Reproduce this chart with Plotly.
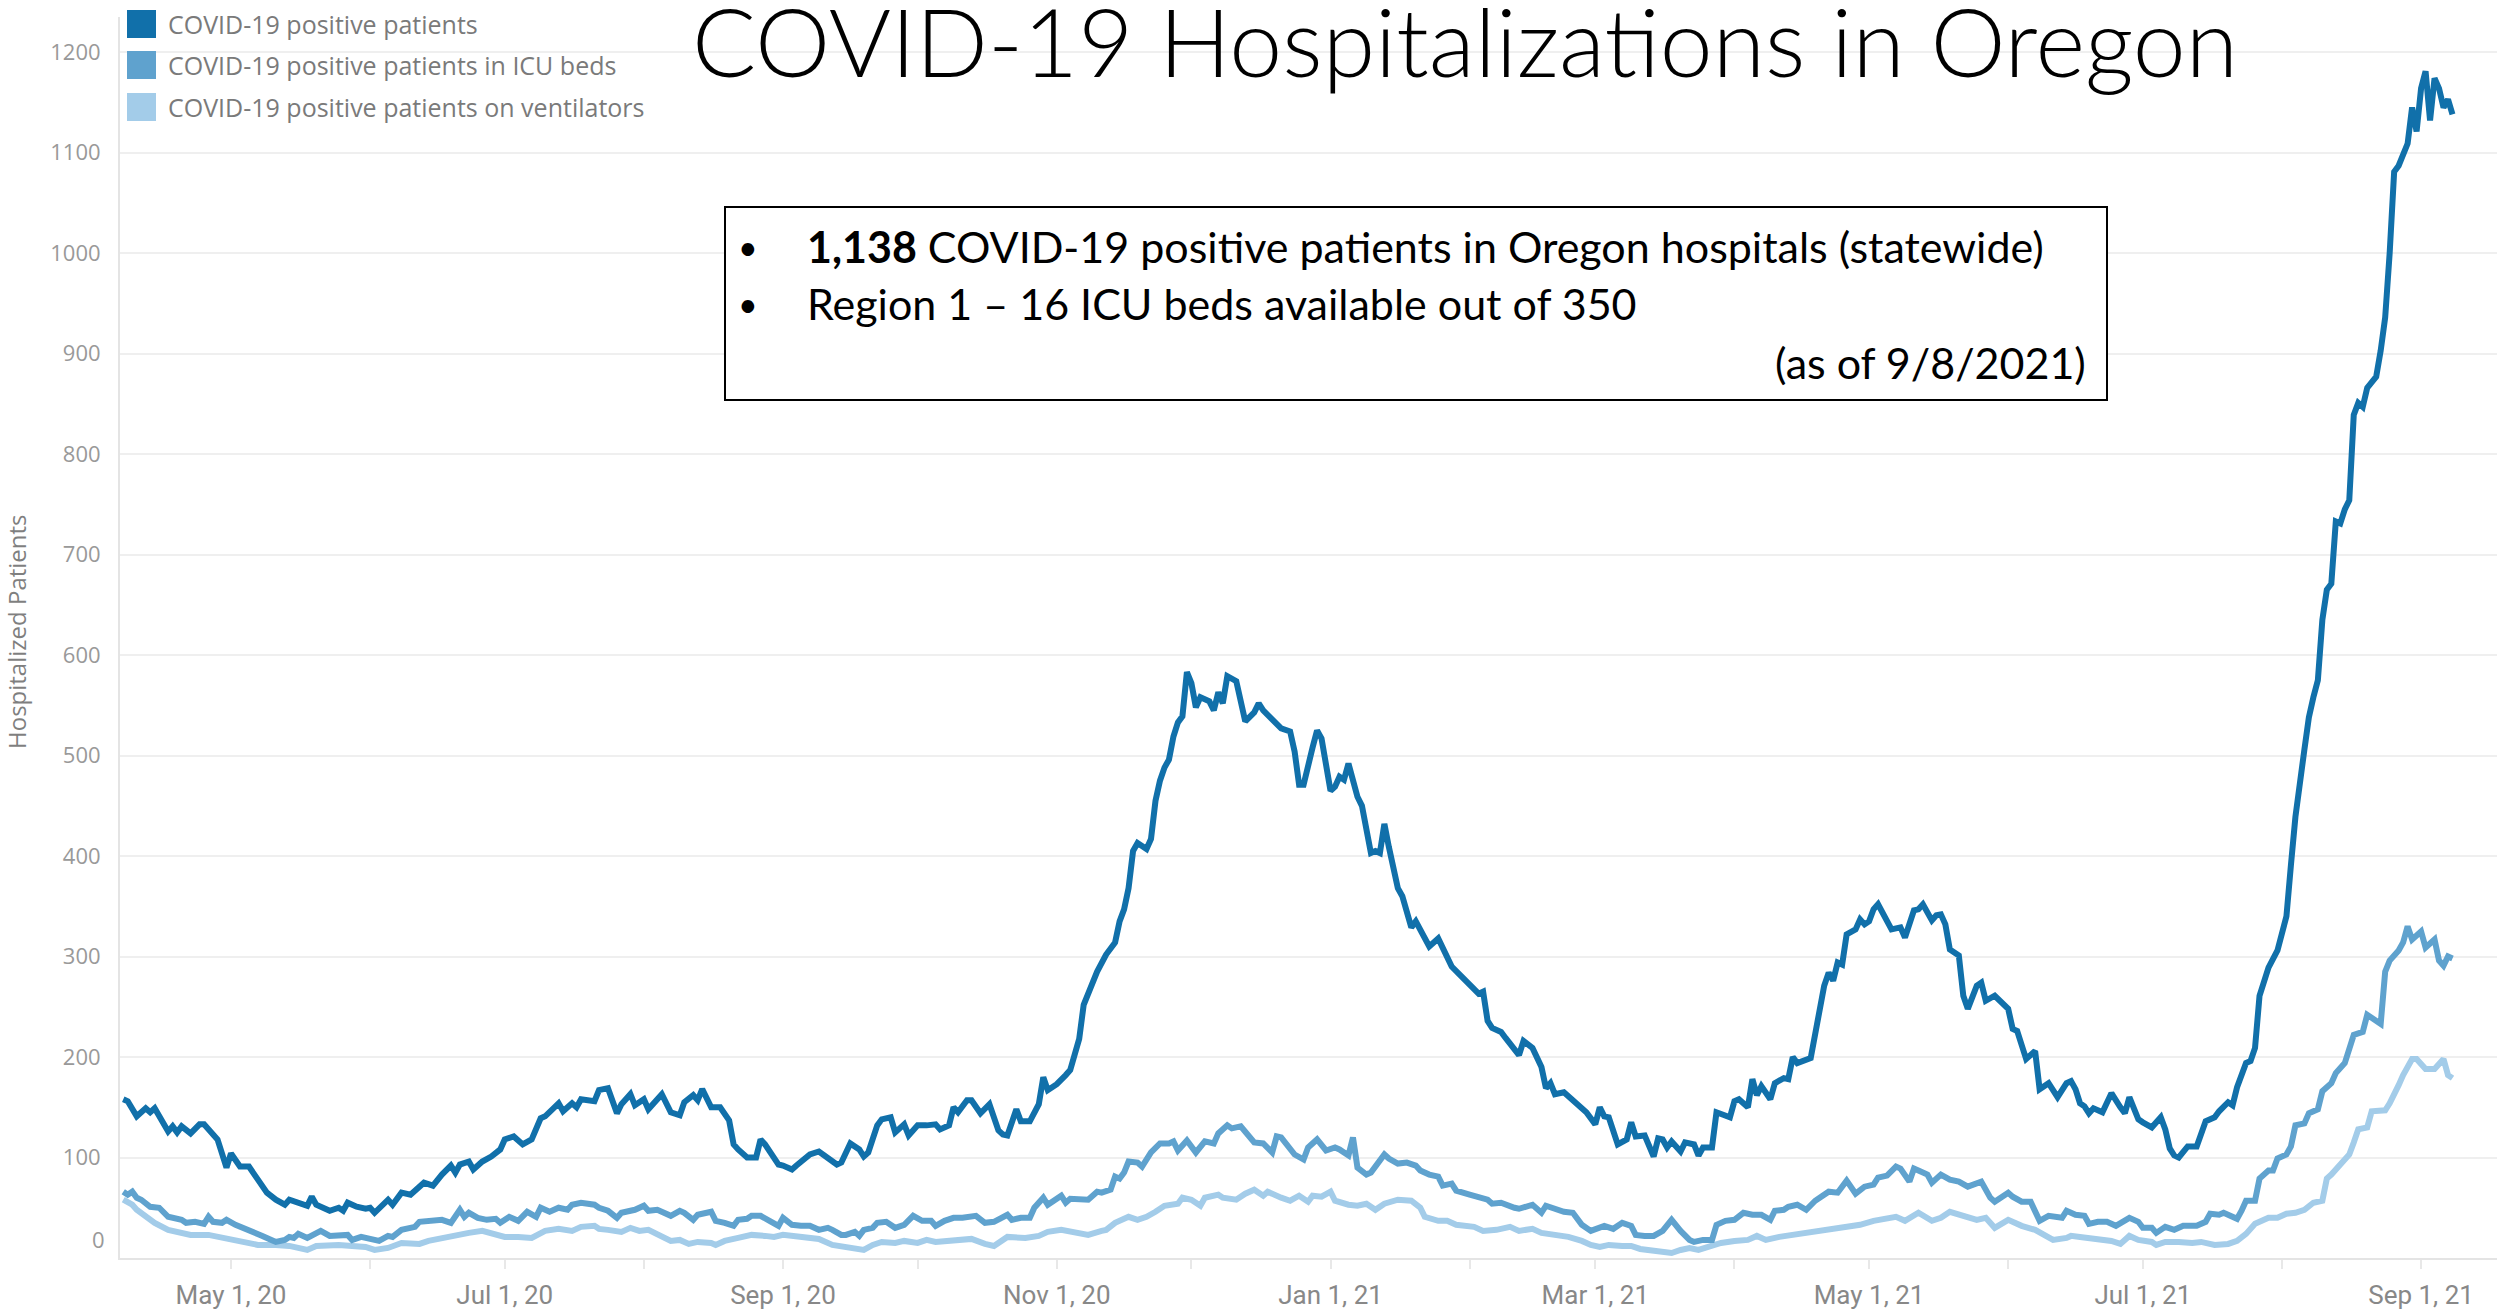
import pandas as pd
import plotly.graph_objects as go

# ---------------- data (day offsets from 2020-05-01) ----------------
BASE_DATE = "2020-05-01"

total_day = [-24,-23,-21,-19,-18,-17,-14,-13,-12,-11,-9,-7,-6,-3,-1,0,2,4,6,8,10,12,13,15,17,18,19,22,24,25,26,28,30,31,32,35,36,38,40,43,45,47,49,50,51,53,54,56,58,60,61,63,65,67,69,70,73,74,76,77,78,81,
             82,84,86,87,89,90,92,93,96,98,100,101,103,104,105,107,109,111,112,113,115,117,118,119,121,122,123,125,126,129,131,133,135,136,138,140,141,142,144,145,147,148,150,151,153,155,157,158,160,161,162,164,165,167,169,171,172,173,175,176,178,180,181,182,184,186,187,189,190,
             193,195,197,198,199,200,201,202,204,205,206,207,208,209,210,211,212,213,214,215,216,218,219,220,221,222,224,226,228,229,230,232,234,236,237,238,239,241,242,243,245,246,247,248,249,251,252,254,255,256,257,258,260,261,263,264,266,267,269,272,274,276,278,279,280,281,283,284,286,287,288,290,292,293,294,295,297,298,301,302,
             304,305,306,307,309,311,312,313,315,317,318,319,320,321,323,324,326,327,328,330,331,333,334,335,336,338,339,340,341,343,344,346,347,348,349,352,353,354,355,356,357,358,359,360,362,363,364,365,366,367,369,370,372,373,375,376,377,379,380,381,382,383,385,386,387,389,390,391,393,395,396,397,398,400,402,403,405,407,409,
             410,411,412,413,414,415,417,419,421,422,423,425,426,428,430,431,432,433,434,436,438,440,442,443,445,446,447,448,449,450,451,452,453,454,456,457,458,459,460,462,463,
             464,465,466,467,468,469,470,471,472,473,474,475,476,478,479,480,481,482,483,484,485,486,487,488,489,490,491,492,493,494,495]
total_val = [158,156,141,149,145,149,126,131,125,131,124,133,133,118,90,104,91,91,78,65,58,53,58,55,52,61,53,47,50,47,55,51,49,50,45,58,53,65,63,75,72,83,92,85,93,96,88,96,101,108,118,121,113,118,139,141,154,146,154,150,158,156,
             167,169,144,153,163,152,158,148,163,145,142,155,162,157,168,150,150,137,113,108,100,100,118,113,98,93,92,88,92,103,106,100,93,95,114,108,101,105,132,138,140,125,133,122,132,132,133,128,132,150,145,157,157,144,153,127,123,122,148,136,136,153,180,167,173,182,187,218,252,
             285,302,314,335,347,368,405,413,407,417,455,475,488,496,519,533,539,583,572,548,558,554,545,563,552,579,574,534,543,552,545,535,527,524,504,471,471,508,525,517,465,469,479,476,492,459,450,403,405,403,432,409,368,360,329,335,320,310,318,290,281,271,263,265,236,229,225,219,207,202,216,209,190,169,174,163,165,161,151,145,
             133,150,141,140,113,118,135,121,122,101,119,118,110,116,106,115,113,102,110,110,145,141,140,156,158,150,178,162,171,158,174,179,178,200,194,199,221,244,271,284,276,294,292,322,327,337,332,335,347,352,336,327,329,319,346,347,352,336,341,342,332,307,301,261,248,271,274,256,261,251,248,228,226,198,206,168,174,160,174,
             176,168,154,151,144,149,145,164,150,144,160,138,135,130,140,128,109,102,100,111,111,136,140,146,155,152,170,184,194,196,209,261,275,289,306,324,340,391,439,506,538,
             558,575,635,665,671,733,731,745,754,839,851,847,866,877,903,936,1000,1081,1087,1100,1109,1145,1121,1164,1181,1132,1174,1164,1145,1153,1138]

icu_day = [-24,-23,-22,-21,-20,-18,-16,-15,-14,-11,-10,-8,-6,-5,-4,-2,-1,1,4,6,7,9,10,12,13,14,15,17,20,22,24,26,27,29,32,33,35,36,38,41,42,45,47,49,51,52,53,55,57,59,60,62,64,66,68,69,71,73,75,76,78,81,
           82,84,86,87,90,92,93,95,98,100,101,103,104,107,108,110,112,113,115,116,118,120,122,123,125,127,129,131,133,134,136,137,139,140,141,143,144,146,148,150,152,154,156,157,159,161,163,166,168,170,171,173,174,176,178,179,181,182,185,186,187,189,
           191,193,194,196,197,198,199,200,202,203,205,207,209,210,211,213,215,217,219,220,222,223,225,228,230,232,233,234,237,239,240,242,244,246,247,249,250,251,253,254,257,258,260,262,264,265,267,269,270,272,273,276,278,280,281,283,286,287,290,292,293,295,297,299,301,303,
           306,308,310,312,313,315,317,319,321,323,325,326,328,330,331,333,335,337,339,341,343,344,346,347,349,351,353,356,357,358,360,362,364,366,367,369,371,372,374,375,376,378,379,381,383,385,387,389,390,392,393,396,397,399,401,403,405,408,409,
           411,413,414,416,418,420,423,425,426,428,429,431,433,435,438,440,441,443,444,445,447,448,449,451,452,454,455,456,458,459,460,462,463,465,466,468,469,471,472,473,475,476,479,480,481,483,484,485,486,488,489,491,492,493,494,495]
icu_val = [66,63,66,60,58,51,50,46,41,38,35,36,34,41,36,35,38,33,28,25,22,18,16,18,21,20,24,20,27,22,22,23,18,21,18,17,22,21,28,31,36,38,38,35,48,41,45,40,38,39,35,41,37,46,41,50,46,50,48,53,55,53,
           50,47,40,45,48,52,47,48,42,47,45,38,43,46,37,35,32,38,39,42,42,37,32,40,33,32,32,28,30,28,23,23,26,22,28,30,35,36,30,33,42,37,37,32,37,40,40,42,35,36,38,43,38,40,40,50,60,53,62,55,59,58,
           58,66,65,68,81,79,85,96,95,91,105,114,114,116,107,117,105,116,114,124,132,129,131,115,114,105,121,120,103,98,110,118,107,110,108,102,120,90,83,85,103,99,94,95,92,87,83,81,72,74,67,63,61,58,54,55,50,49,53,45,52,49,46,45,33,27,
           32,29,35,32,23,22,22,27,38,27,18,16,18,18,33,37,38,45,43,43,38,47,48,51,53,48,57,66,65,65,77,64,71,73,80,82,91,89,76,89,87,83,75,83,78,76,71,75,76,60,56,65,61,56,56,37,42,40,47,
           43,42,34,36,36,32,40,36,30,30,25,31,28,32,32,36,44,43,45,43,39,47,57,57,79,87,87,99,103,111,132,134,144,148,166,174,184,194,206,222,225,242,233,285,296,306,314,330,317,325,309,317,296,291,300,298]

vent_day = [-24,-22,-21,-19,-17,-14,-12,-9,-5,-2,0,3,6,10,13,17,19,24,26,30,32,35,38,42,44,47,50,53,56,59,61,64,67,70,73,76,78,81,
            82,84,87,89,91,93,96,98,100,102,104,107,108,110,113,116,119,121,123,125,128,131,134,137,139,141,143,145,148,150,153,155,157,160,162,165,168,170,173,175,177,180,182,185,188,
            191,194,195,197,200,202,204,206,208,211,212,214,216,217,220,221,224,226,228,230,231,234,236,238,240,241,243,245,246,249,251,253,255,257,260,263,265,266,269,271,273,277,279,282,285,287,290,292,295,298,301,303,
            305,307,310,312,314,316,318,321,323,325,327,329,332,335,338,340,342,345,348,351,354,357,360,363,366,369,371,373,376,379,381,383,386,389,391,393,396,399,402,404,406,409,
            410,412,414,416,419,421,423,425,428,429,431,434,437,439,442,445,447,449,451,454,456,458,460,462,464,466,467,468,470,472,473,474,476,477,480,481,483,484,486,487,489,491,493,494,495]
vent_val = [58,53,48,41,35,28,26,23,23,20,18,15,13,13,12,8,12,13,12,11,8,10,15,14,17,20,23,25,27,24,21,21,20,27,29,27,31,32,
            29,28,26,30,27,28,22,17,18,14,16,15,13,17,20,23,22,21,23,22,20,19,13,11,10,8,13,16,15,17,15,18,16,17,18,19,14,12,21,21,20,22,26,28,26,
            23,27,28,35,41,38,41,46,52,54,60,58,52,60,63,60,58,64,68,62,66,60,57,62,56,62,61,66,57,53,52,54,48,54,58,57,50,41,37,37,33,31,27,28,31,27,29,25,23,21,17,13,
            11,13,12,12,9,8,6,5,8,10,8,11,15,17,18,22,18,21,23,25,28,30,32,33,37,40,41,37,45,37,40,46,42,38,40,30,38,32,28,23,18,20,
            22,21,20,18,17,14,22,18,16,13,16,16,15,16,13,14,17,24,34,40,40,44,45,48,55,57,79,83,93,103,115,128,130,146,147,154,172,182,198,198,188,188,198,182,179]

series_names = ["COVID-19 positive patients", "COVID-19 positive patients in ICU beds",
                "COVID-19 positive patients on ventilators"]
series_colors = ["#1170aa", "#5fa2ce", "#a3cce9"]

y_ticks = [100, 200, 300, 400, 500, 600, 700, 800, 900, 1000, 1100, 1200]
x_tick_dates = ["2020-05-01", "2020-06-01", "2020-07-01", "2020-08-01", "2020-09-01", "2020-10-01",
                "2020-11-01", "2020-12-01", "2021-01-01", "2021-02-01", "2021-03-01", "2021-04-01",
                "2021-05-01", "2021-06-01", "2021-07-01", "2021-08-01", "2021-09-01"]
x_tick_text = ["May 1, 20", "", "Jul 1, 20", "", "Sep 1, 20", "", "Nov 1, 20", "", "Jan 1, 21", "",
               "Mar 1, 21", "", "May 1, 21", "", "Jul 1, 21", "", "Sep 1, 21"]
x_range = ["2020-04-06 06:30", "2021-09-17 22:00"]
y_range = [0, 1235]

title_text = "COVID-19 Hospitalizations in Oregon"
y_title = "Hospitalized Patients"
box_lines = ["<b>1,138</b> COVID-19 positive patients in Oregon hospitals (statewide)",
             "Region 1 \u2013 16 ICU beds available out of 350",
             "(as of 9/8/2021)"]

# ---------------- layout geometry ----------------
W, H = 2497, 1312
ML, MR, MT, MB = 120, 0, 17, 54
PW, PH = W - ML - MR, H - MT - MB


def px(x):
    return (x - ML) / PW


def py(y):
    return (H - MB - y) / PH


def to_dates(days):
    return pd.Timestamp(BASE_DATE) + pd.to_timedelta(days, unit="D")


fig = go.Figure()
for days, vals, name, color in [
    (vent_day, vent_val, series_names[2], series_colors[2]),
    (icu_day, icu_val, series_names[1], series_colors[1]),
    (total_day, total_val, series_names[0], series_colors[0]),
]:
    fig.add_trace(go.Scatter(x=to_dates(days), y=vals, mode="lines", name=name,
                             line=dict(color=color, width=6), showlegend=False))

GRID = "#efefef"
fig.update_layout(
    width=W, height=H, margin=dict(l=ML, r=MR, t=MT, b=MB, pad=0),
    paper_bgcolor="white", plot_bgcolor="white", showlegend=False,
    xaxis=dict(range=x_range, tickvals=x_tick_dates, ticktext=x_tick_text,
               showgrid=False, zeroline=False, showline=True, linecolor="#e4e4e4", linewidth=2,
               ticks="outside", ticklen=9, tickwidth=2, tickcolor="#e8e8e8",
               tickfont=dict(family="Roboto", size=26, color="#888888"), ticklabelstandoff=4),
    yaxis=dict(range=y_range, tickvals=y_ticks, showgrid=True, gridcolor=GRID, gridwidth=2,
               zeroline=False, showline=True, linecolor="#e4e4e4", linewidth=2, ticks="",
               tickfont=dict(family="Open Sans", size=22, color="#999999"), ticklabelstandoff=13),
)

annotations = []
# "0" label (shifted up, as in the reference)
annotations.append(dict(x=0, xref="paper", y=0, yref="y", text="0", showarrow=False,
                        xanchor="right", yanchor="middle", xshift=-13, yshift=19,
                        font=dict(family="Open Sans", size=22, color="#999999")))
# y-axis title
annotations.append(dict(x=px(16), y=py(632), xref="paper", yref="paper", text=y_title, textangle=-90,
                        showarrow=False, xanchor="center", yanchor="middle",
                        font=dict(family="Open Sans", size=24, color="#7f7f7f")))
# title
annotations.append(dict(x=px(690), y=py(40), xref="paper", yref="paper", text=title_text,
                        showarrow=False, xanchor="left", yanchor="middle",
                        font=dict(family="Lato", size=95, color="black", weight=300)))
# legend (manual swatches + labels)
shapes = []
leg_y = [24, 65, 107]
for name, color, yy in zip(series_names, series_colors, leg_y):
    shapes.append(dict(type="rect", xref="paper", yref="paper", x0=px(127), x1=px(156),
                       y0=py(yy - 14), y1=py(yy + 14), fillcolor=color, line=dict(width=0)))
    annotations.append(dict(x=px(166), y=py(yy), xref="paper", yref="paper", text=name,
                            showarrow=False, xanchor="left", yanchor="middle",
                            font=dict(family="Open Sans", size=25, color="#7a7a7a")))
# info box
shapes.append(dict(type="rect", xref="paper", yref="paper", x0=px(725), x1=px(2107),
                   y0=py(400), y1=py(207), line=dict(color="black", width=2), fillcolor="white"))
for yy in (247, 303):
    annotations.append(dict(x=px(748), y=py(yy), xref="paper", yref="paper", text="\u2022",
                            showarrow=False, xanchor="center", yanchor="middle",
                            font=dict(family="Lato", size=34, color="black")))
annotations.append(dict(x=px(805), y=py(247), xref="paper", yref="paper", text=box_lines[0],
                        showarrow=False, xanchor="left", yanchor="middle",
                        font=dict(family="Lato", size=43, color="black")))
annotations.append(dict(x=px(805), y=py(303), xref="paper", yref="paper", text=box_lines[1],
                        showarrow=False, xanchor="left", yanchor="middle",
                        font=dict(family="Lato", size=43, color="black")))
annotations.append(dict(x=px(2088), y=py(362), xref="paper", yref="paper", text=box_lines[2],
                        showarrow=False, xanchor="right", yanchor="middle",
                        font=dict(family="Lato", size=43, color="black")))

fig.update_layout(annotations=annotations, shapes=shapes)

fig.write_html("out.html", config={"displayModeBar": False},
               post_script="document.body.style.margin='0';document.body.style.overflow='hidden';")
